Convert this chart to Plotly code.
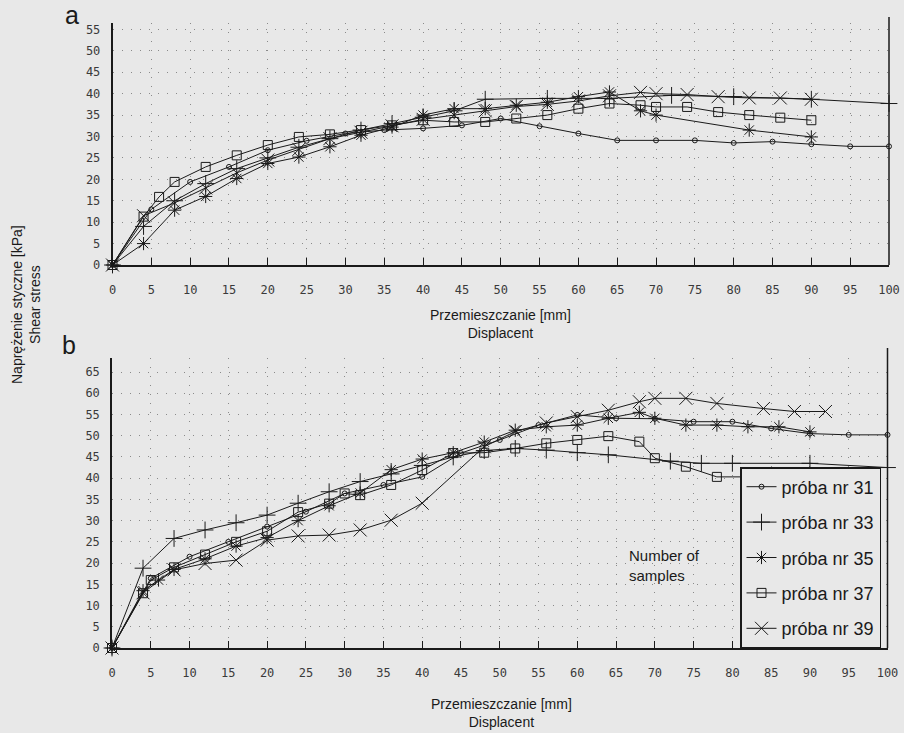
import plotly.graph_objects as go

# ---------------- data: panel a ----------------
a31_x = [0, 5, 10, 15, 20, 25, 30, 35, 40, 45, 50, 55, 60, 65, 70, 75, 80, 85, 90, 95, 100]
a31_y = [0, 13, 19.4, 22.9, 26.8, 29, 30.7, 31.5, 31.9, 32.6, 34.2, 32.4, 30.7, 29.1, 29.1, 29.1, 28.5, 28.8, 28.2, 27.7, 27.7]

a33_x = [0, 4, 8, 12, 16, 20, 24, 28, 32, 36, 40, 44, 48, 56, 64, 72, 80, 90, 100]
a33_y = [0, 9, 15, 19, 22.5, 25, 27.5, 29.5, 31.5, 33, 34.5, 36, 38.7, 38.9, 38.9, 39.6, 39.3, 38.7, 37.7]

a35_x = [0, 4, 8, 12, 16, 20, 24, 28, 32, 36, 40, 44, 48, 52, 56, 60, 64, 68, 70, 82, 90]
a35_y = [0, 5, 12.8, 16, 20.2, 23.7, 25.2, 27.6, 30.3, 32.2, 35, 36.5, 36.5, 37.3, 38, 39.3, 40.4, 36, 35, 31.5, 29.9]

a37_x = [0, 4, 6, 8, 12, 16, 20, 24, 28, 32, 36, 40, 44, 48, 52, 56, 60, 64, 68, 70, 74, 78, 82, 86, 90]
a37_y = [0, 11.3, 15.9, 19.4, 22.9, 25.6, 28, 29.9, 30.5, 31.5, 32.6, 33.8, 33.4, 33.4, 34.2, 35, 36.5, 37.7, 37.3, 36.9, 36.9, 35.7, 35, 34.4, 33.8]

a39_x = [0, 4, 8, 12, 16, 20, 24, 28, 32, 36, 40, 44, 48, 52, 56, 60, 64, 68, 70, 74, 78, 82, 86, 90]
a39_y = [0, 11.5, 14.5, 18, 21.5, 24.5, 27, 29.5, 31, 32.5, 34, 35, 36, 37, 37.5, 38.3, 39.5, 40.3, 40, 39.8, 39.3, 39, 39, 38.7]

# ---------------- data: panel b ----------------
b31_x = [0, 5, 10, 15, 20, 25, 30, 35, 40, 45, 50, 55, 60, 65, 70, 75, 80, 85, 90, 95, 100]
b31_y = [0, 16.4, 21.5, 25, 28.6, 32.1, 36.4, 38.4, 40.3, 45.9, 49, 52.5, 54.9, 54.1, 54, 53.3, 53.3, 51.7, 50.5, 50.2, 50.2]

b33_x = [0, 4, 8, 12, 16, 20, 24, 28, 32, 36, 40, 44, 48, 52, 56, 60, 64, 72, 76, 80, 90, 100]
b33_y = [0, 18.8, 25.8, 27.8, 29.5, 31.3, 34.1, 36.8, 39.2, 41, 43, 45, 46.5, 47, 46.6, 46, 45.5, 44, 43.5, 43.5, 43.5, 42.5]

b35_x = [0, 4, 6, 8, 12, 16, 20, 24, 28, 32, 36, 40, 44, 48, 52, 56, 60, 64, 68, 70, 74, 78, 82, 86, 90]
b35_y = [0, 13.5, 16, 18.5, 21, 24, 26, 30, 33.5, 36.5, 42, 44.5, 46, 48.5, 51.3, 52.1, 52.5, 54.1, 55.5, 54.1, 52.5, 52.5, 52.1, 52.1, 50.9]

b37_x = [0, 4, 5, 8, 12, 16, 20, 24, 28, 30, 32, 36, 40, 44, 48, 52, 56, 60, 64, 68, 70, 74, 78, 82]
b37_y = [0, 12.9, 16, 19, 22, 25, 27.5, 32, 34, 36.4, 36, 38.4, 41.9, 45.9, 46, 47, 48.2, 49, 49.9, 48.6, 44.7, 42.7, 40.3, 40.3]

b39_x = [0, 4, 8, 12, 16, 20, 24, 28, 32, 36, 40, 48, 52, 56, 60, 64, 68, 70, 74, 78, 84, 88, 92]
b39_y = [0, 13, 18.4, 19.9, 20.7, 25.4, 26.4, 26.6, 27.8, 30.1, 34.1, 47.4, 51, 53, 54.5, 56, 58, 58.8, 58.8, 57.6, 56.4, 55.7, 55.7]

names = ["próba nr 31", "próba nr 33", "próba nr 35", "próba nr 37", "próba nr 39"]
x_ticks = list(range(0, 101, 5))
ya_ticks = list(range(0, 56, 5))
yb_ticks = list(range(0, 66, 5))

# ---------------- styling ----------------
BG = "#e8e8e8"
INK = "#1a1a1a"
symbols = ["circle-open", "cross-thin-open", "asterisk-open", "square-open", "x-thin-open"]
sizes = [5, 12, 11, 9, 13]

fig = go.Figure()

panel_a = [(a31_x, a31_y), (a33_x, a33_y), (a35_x, a35_y), (a37_x, a37_y), (a39_x, a39_y)]
panel_b = [(b31_x, b31_y), (b33_x, b33_y), (b35_x, b35_y), (b37_x, b37_y), (b39_x, b39_y)]

for i, (xs, ys) in enumerate(panel_a):
    fig.add_trace(go.Scatter(
        x=xs, y=ys, mode="lines+markers", name=names[i], showlegend=False,
        xaxis="x", yaxis="y", cliponaxis=False,
        line=dict(color=INK, width=1),
        marker=dict(symbol=symbols[i], size=sizes[i], color=INK, line=dict(color=INK, width=1)),
    ))

for i, (xs, ys) in enumerate(panel_b):
    fig.add_trace(go.Scatter(
        x=xs, y=ys, mode="lines+markers", name=names[i], showlegend=True,
        legendgroup=names[i],
        xaxis="x2", yaxis="y2", cliponaxis=False,
        line=dict(color=INK, width=1),
        marker=dict(symbol=symbols[i], size=sizes[i], color=INK, line=dict(color=INK, width=1)),
    ))

W, H = 904, 733
def fx(px):
    return px / W
def fy(py):
    return (H - py) / H

tickfont = dict(family="DejaVu Sans Mono", size=12, color="#3a3a3a")
grid = dict(showgrid=True, gridcolor="#8a8a8a", gridwidth=1, griddash="1px,8px")

xcommon = dict(range=[0, 100], tickmode="array", tickvals=x_ticks, ticktext=[str(v) for v in x_ticks],
               showline=True, linecolor=INK, linewidth=1.5, ticks="inside", ticklen=7, tickcolor=INK,
               tickwidth=1, tickfont=tickfont, ticklabelstandoff=13, zeroline=False, automargin=False,
               **grid)
xover = dict(range=[0, 100], tickmode="array", tickvals=x_ticks, showticklabels=False,
             showline=False, ticks="outside", ticklen=7, tickcolor=INK, tickwidth=1,
             showgrid=False, zeroline=False, automargin=False)
ycommon = dict(showline=True, linecolor=INK, linewidth=1.5, ticks="", tickfont=tickfont,
               ticklabelstandoff=8, zeroline=False, automargin=False, **grid)

fig.update_layout(
    template="none",
    width=W, height=H, autosize=False,
    paper_bgcolor=BG, plot_bgcolor=BG,
    margin=dict(l=0, r=0, t=0, b=0, pad=0, autoexpand=False),
    font=dict(family="Liberation Sans", color=INK),
    xaxis=dict(domain=[fx(112.5), fx(889)], anchor="y", **xcommon),
    yaxis=dict(domain=[fy(265), fy(23)], anchor="x", range=[0, 56.5], tickmode="array",
               tickvals=ya_ticks, **ycommon),
    xaxis2=dict(domain=[fx(112), fx(887.5)], anchor="y2", **xcommon),
    yaxis2=dict(domain=[fy(648), fy(358)], anchor="x2", range=[0, 68.3], tickmode="array",
                tickvals=yb_ticks, **ycommon),
    xaxis3=dict(overlaying="x", anchor="y", **xover),
    xaxis4=dict(overlaying="x2", anchor="y2", **xover),
    legend=dict(x=fx(740), y=fy(467), xanchor="left", yanchor="top",
                bgcolor=BG, bordercolor=INK, borderwidth=1.5,
                font=dict(family="Liberation Sans", size=18, color=INK),
                tracegroupgap=9, itemwidth=30, entrywidth=100, entrywidthmode="pixels"),
    showlegend=True,
)

shapes = [
    dict(type="line", xref="paper", yref="paper", x0=fx(889), x1=fx(889), y0=fy(265), y1=fy(17),
         line=dict(color=INK, width=1.5)),
    dict(type="line", xref="paper", yref="paper", x0=fx(887.5), x1=fx(887.5), y0=fy(648), y1=fy(348),
         line=dict(color=INK, width=1.5)),
]
fig.update_layout(shapes=shapes)

title_font = dict(family="Liberation Sans", size=14, color=INK)
common_ann = dict(xref="paper", yref="paper", showarrow=False, yanchor="middle")
ann = [
    dict(text="Przemieszczanie [mm]<br>Displacent", x=fx(500), y=fy(324), xanchor="center",
         font=title_font, align="center", **common_ann),
    dict(text="Przemieszczanie [mm]<br>Displacent", x=fx(501), y=fy(713), xanchor="center",
         font=title_font, align="center", **common_ann),
    dict(text="Naprężenie styczne [kPa]<br>Shear stress", x=fx(26), y=fy(305), xanchor="center",
         textangle=-90, font=title_font, align="center", **common_ann),
    dict(text="a", x=fx(72), y=fy(15), xanchor="center",
         font=dict(family="Liberation Sans", size=25, color=INK), **common_ann),
    dict(text="b", x=fx(69), y=fy(345), xanchor="center",
         font=dict(family="Liberation Sans", size=25, color=INK), **common_ann),
    dict(text="Number of<br>samples", x=fx(627), y=fy(565), xanchor="left", align="left",
         font=dict(family="Liberation Sans", size=15, color=INK), **common_ann),
]
fig.update_layout(annotations=ann)

fig.write_html("out.html", config={"displayModeBar": False},
               post_script="document.body.style.margin='0';document.body.style.padding='0';")
